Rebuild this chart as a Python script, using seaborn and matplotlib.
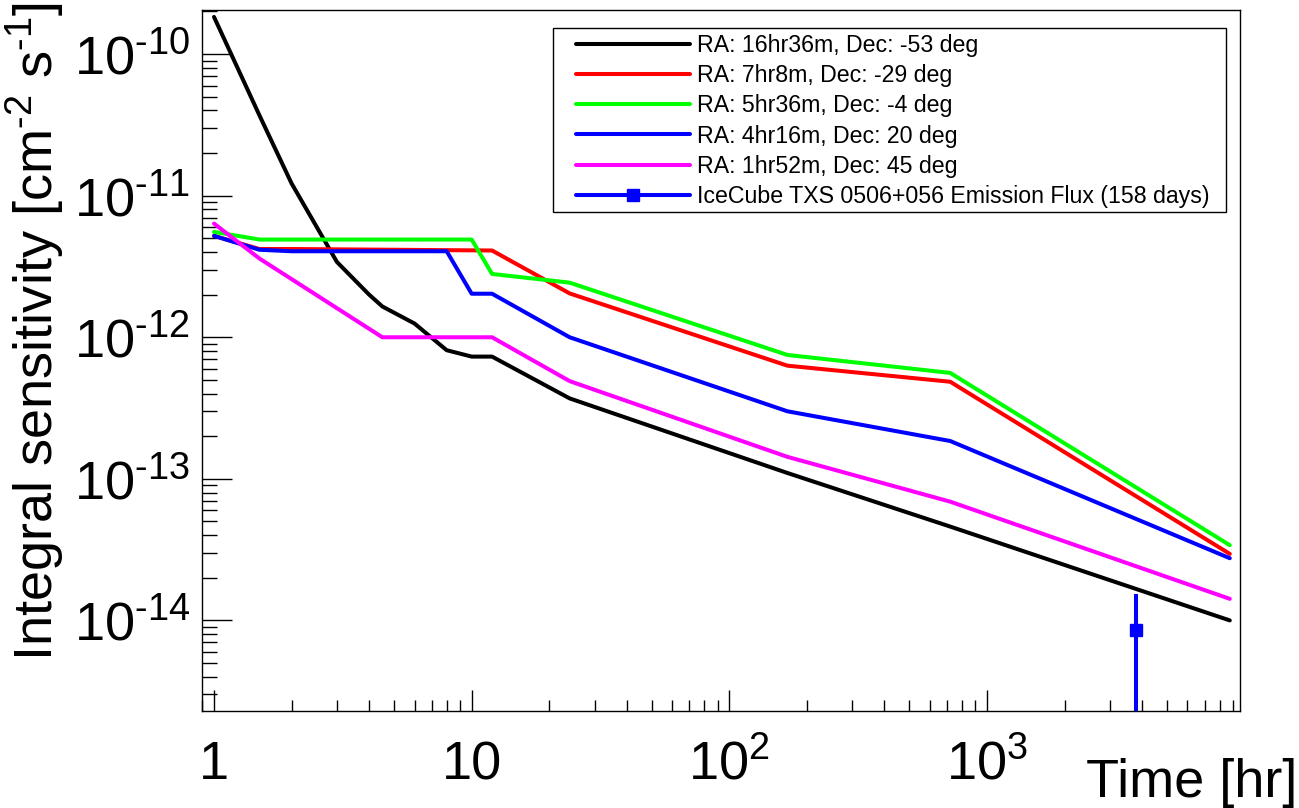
import numpy as np
import pandas as pd
import matplotlib
matplotlib.use("Agg")
import matplotlib.pyplot as plt
from matplotlib.lines import Line2D
from matplotlib.patches import Rectangle
from matplotlib.ticker import LogLocator, NullFormatter
import seaborn as sns

# -----------------------------
# Data
# -----------------------------
labels = [
    "RA: 16hr36m, Dec: -53 deg",
    "RA: 7hr8m, Dec: -29 deg",
    "RA: 5hr36m, Dec: -4 deg",
    "RA: 4hr16m, Dec: 20 deg",
    "RA: 1hr52m, Dec: 45 deg",
]
colors = ["#000000", "#ff0000", "#00ff00", "#0000ff", "#ff00ff"]

t_black = [1, 1.5, 2, 3, 4, 4.5, 6, 8, 10, 12, 24, 168, 720, 8760]
s_black = [1.83e-10, 3.7e-11, 1.22e-11, 3.4e-12, 2.0e-12, 1.65e-12, 1.25e-12,
           8.1e-13, 7.3e-13, 7.3e-13, 3.7e-13, 1.1e-13, 4.6e-14, 1.0e-14]

t_red = [1, 1.5, 2, 12, 24, 168, 720, 8760]
s_red = [5.2e-12, 4.2e-12, 4.2e-12, 4.1e-12, 2.04e-12, 6.3e-13, 4.85e-13, 2.95e-14]

t_green = [1, 1.5, 10, 12, 24, 168, 720, 8760]
s_green = [5.55e-12, 4.9e-12, 4.9e-12, 2.8e-12, 2.43e-12, 7.5e-13, 5.6e-13, 3.4e-14]

t_blue = [1, 1.5, 2, 8, 10, 12, 24, 168, 720, 8760]
s_blue = [5.2e-12, 4.15e-12, 4.05e-12, 4.05e-12, 2.03e-12, 2.03e-12, 1.0e-12,
          3.0e-13, 1.85e-13, 2.75e-14]

t_magenta = [1, 1.5, 4.5, 12, 24, 168, 720, 8760]
s_magenta = [6.35e-12, 3.6e-12, 1.0e-12, 1.0e-12, 4.9e-13, 1.43e-13, 6.9e-14, 1.42e-14]

# IceCube point (158 days)
ice_label = "IceCube TXS 0506+056 Emission Flux (158 days)"
ice_t = [158 * 24]
ice_flux = [8.5e-15]
ice_hi = [1.53e-14]
ice_lo = [1e-17]

xtick_vals = [1, 10, 100, 1000]
xtick_labels = ["1", "10", "$10^{2}$", "$10^{3}$"]
ytick_vals = [1e-14, 1e-13, 1e-12, 1e-11, 1e-10]
ytick_labels = ["$10^{\\text{-}14}$", "$10^{\\text{-}13}$", "$10^{\\text{-}12}$",
                "$10^{\\text{-}11}$", "$10^{\\text{-}10}$"]

# -----------------------------
# Long-form frame for seaborn
# -----------------------------
series = [
    (labels[0], t_black, s_black),
    (labels[1], t_red, s_red),
    (labels[2], t_green, s_green),
    (labels[3], t_blue, s_blue),
    (labels[4], t_magenta, s_magenta),
]
df = pd.concat(
    [pd.DataFrame({"time": t, "sens": s, "source": name}) for name, t, s in series],
    ignore_index=True,
)

# -----------------------------
# Style
# -----------------------------
sns.set_style("ticks")
plt.rcParams["font.family"] = ["Liberation Sans", "DejaVu Sans"]
plt.rcParams["mathtext.fontset"] = "custom"
plt.rcParams["mathtext.rm"] = "Liberation Sans"
plt.rcParams["mathtext.it"] = "Liberation Sans:italic"
plt.rcParams["mathtext.bf"] = "Liberation Sans:bold"
plt.rcParams["text.color"] = "black"
plt.rcParams["axes.labelcolor"] = "black"
plt.rcParams["xtick.color"] = "black"
plt.rcParams["ytick.color"] = "black"

fig = plt.figure(figsize=(12.99, 8.08), dpi=100)
ax = fig.add_axes([0.1553, 0.12, 0.9546 - 0.1553, 0.9873 - 0.12])
ax.set_xscale("log")
ax.set_yscale("log")

sns.lineplot(
    data=df,
    x="time",
    y="sens",
    hue="source",
    hue_order=labels,
    palette=colors,
    sort=False,
    estimator=None,
    linewidth=2.9,
    legend=False,
    ax=ax,
)

ice_err = [[ice_flux[0] - ice_lo[0]], [ice_hi[0] - ice_flux[0]]]
ax.errorbar(ice_t, ice_flux, yerr=ice_err, fmt="s", color="#0000ff",
            markersize=8.5, elinewidth=2.9, capsize=0, zorder=5)

ax.set_xlim(0.896, 9600)
ax.set_ylim(2.29e-15, 2.04e-10)

# ticks
ax.set_xticks(xtick_vals, labels=xtick_labels, va="baseline")
ax.set_yticks(ytick_vals, labels=ytick_labels)
ax.xaxis.set_minor_locator(LogLocator(base=10, subs=np.arange(2, 10), numticks=50))
ax.yaxis.set_minor_locator(LogLocator(base=10, subs=np.arange(2, 10), numticks=50))
ax.xaxis.set_minor_formatter(NullFormatter())
ax.yaxis.set_minor_formatter(NullFormatter())

ax.tick_params(axis="both", which="both", direction="in", top=False, right=False,
               bottom=True, left=True, colors="black", width=1.0, labelsize=39)
ax.tick_params(axis="x", which="major", length=15, pad=49)
ax.tick_params(axis="x", which="minor", length=8)
ax.tick_params(axis="y", which="major", length=21.5, pad=8.5)
ax.tick_params(axis="y", which="minor", length=10.8)

for sp in ax.spines.values():
    sp.set_visible(True)
    sp.set_color("black")
    sp.set_linewidth(1.0)

ax.set_xlabel("")
ax.set_ylabel("")

fig.text(1297 / 1299, (808 - 797) / 808, "Time [hr]", ha="right", va="baseline",
         fontsize=39, color="black")
fig.text(53 / 1299, (808 - 2) / 808,
         "Integral sensitivity [cm$^{\\text{-}2}$ s$^{\\text{-}1}$]",
         rotation=90, rotation_mode="anchor", ha="right", va="baseline",
         fontsize=39, color="black")

# -----------------------------
# Legend
# -----------------------------
handles = [Line2D([], [], color=c, linewidth=2.9) for c in colors]
handles.append(Line2D([], [], color="#0000ff", linewidth=2.9, marker="s",
                      markersize=8.5))
leg = ax.legend(
    handles=handles,
    labels=labels + [ice_label],
    loc="upper left",
    bbox_to_anchor=(0.3605, 0.9662),
    frameon=False,
    fontsize=16.7,
    handlelength=4.9,
    handletextpad=0.3,
    borderpad=0,
    borderaxespad=0,
    labelspacing=0.31,
)
for txt in leg.get_texts():
    txt.set_color("black")
ax.add_patch(Rectangle((0.3383, 0.7121), 0.6482, 0.2626, transform=ax.transAxes,
                       fill=False, edgecolor="black", linewidth=1.0, zorder=6))

fig.savefig("out.png", dpi=100)
